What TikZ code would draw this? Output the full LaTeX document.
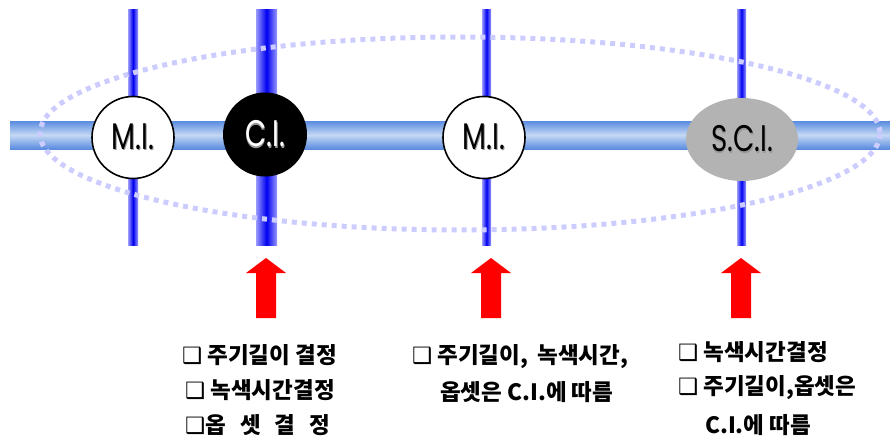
\documentclass[tikz,border=0pt]{standalone}
\usepackage{fontspec}
\usetikzlibrary{shapes.geometric}
\newfontfamily\kr{Noto Sans CJK KR}
\newfontfamily\pop{Poppins}
\newfontfamily\dv{DejaVu Sans}
\definecolor{hedge}{HTML}{5A8CE0}
\definecolor{hmid}{HTML}{C4D8F4}
\definecolor{vedge}{HTML}{9A9AFF}
\definecolor{vmid}{HTML}{0000F0}
\definecolor{dotc}{HTML}{CCCCFF}
\definecolor{scigray}{HTML}{B3B3B3}
\definecolor{shadowc}{HTML}{999999}
\newcommand{\bul}{{\dv\bfseries ❑}}
\newcommand{\lab}[2]{\scalebox{0.75}[1]{\pop\fontsize{37}{40}\selectfont\makebox[0pt][l]{\hspace{1.2pt}\raisebox{-1.2pt}{\color{shadowc}#1}}{\color{#2}#1}}}
\begin{document}
\begin{tikzpicture}[x=1pt,y=-1pt,
  hroad/.style={top color=hedge,bottom color=hedge,middle color=hmid},
  vroad/.style={left color=vedge,right color=vedge,middle color=vmid},
  ring/.style={draw=dotc,line width=5pt,dash pattern=on 5pt off 5pt},
  mi/.style={circle,draw=black,line width=1.6pt,fill=white,minimum size=82pt,inner sep=0pt},
  ci/.style={circle,fill=black,minimum size=84pt,inner sep=0pt},
  sci/.style={ellipse,fill=scigray,minimum width=112pt,minimum height=83pt,inner sep=0pt},
  redarr/.style={fill=red},
  txt/.style={anchor=west,inner sep=0pt,font=\kr\bfseries\fontsize{22.5}{25}\selectfont}]
\useasboundingbox (0,0) rectangle (890,441);
% roads
\shade[hroad] (10,121) rectangle (890,149);
\shade[vroad] (128,10) rectangle (138,245);
\shade[vroad] (256,10) rectangle (277,245);
\shade[vroad] (482,10) rectangle (491,245);
\shade[vroad] (737,10) rectangle (746,245);
% dotted ring
\draw[ring] (460,133.5) ellipse [x radius=420, y radius=96.5];
% intersections
\node[mi] (mi1) at (133,137.5) {\lab{M.I.}{black}};
\node[ci] (ci) at (265,134.5) {\lab{C.I.}{white}};
\node[mi] (mi2) at (484,137.5) {\lab{M.I.}{black}};
\node[sci] (sci) at (742,139.5) {\lab{S.C.I.}{black}};
% red arrows
\foreach \cx in {266,491,741}{
  \fill[redarr] (\cx-10,318) -- (\cx-10,273) -- (\cx-20,273) -- (\cx,258) -- (\cx+20,273) -- (\cx+10,273) -- (\cx+10,318) -- cycle;
}
% texts
\node[txt] (a1) at (182,355) {\bul\ 주기길이 결정};
\node[txt] (a2) at (185,390) {\bul\ 녹색시간결정};
\node[txt] (a3) at (185,425) {\bul 옵\hspace{14pt}셋\hspace{14pt}결\hspace{14pt}정};
\node[txt] (b1) at (412,357) {\bul\ 주기길이,\hspace{4pt} 녹색시간,};
\node[txt] (b2) at (440,392) {옵셋은 C.I.에 따름};
\node[txt] (c1) at (678,352) {\bul\ 녹색시간결정};
\node[txt] (c2) at (678,388) {\bul\ 주기길이,옵셋은};
\node[txt] (c3) at (705,425) {C.I.에 따름};
\end{tikzpicture}
\end{document}
